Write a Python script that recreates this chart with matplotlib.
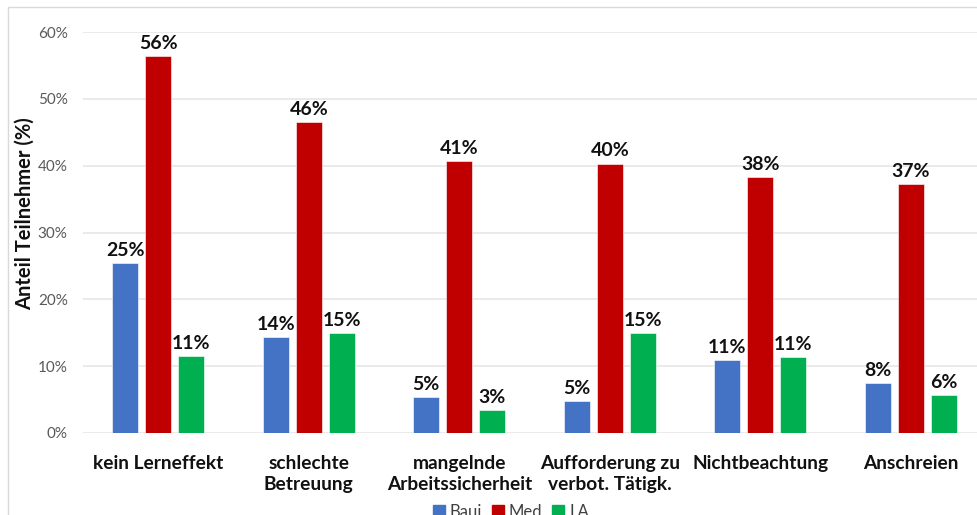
import matplotlib
matplotlib.use("Agg")
import matplotlib.pyplot as plt
import numpy as np
from matplotlib.patches import Rectangle
from matplotlib.ticker import FuncFormatter

categories = ["kein Lerneffekt", "schlechte\nBetreuung", "mangelnde\nArbeitssicherheit",
              "Aufforderung zu\nverbot. Tätigk.", "Nichtbeachtung", "Anschreien"]
series_names = ["Baui", "Med", "LA"]
baui = [25.4, 14.4, 5.4, 4.8, 10.9, 7.5]
med = [56.4, 46.5, 40.7, 40.3, 38.3, 37.2]
la = [11.5, 15.0, 3.4, 15.0, 11.4, 5.7]
labels_baui = ["25%", "14%", "5%", "5%", "11%", "8%"]
labels_med = ["56%", "46%", "41%", "40%", "38%", "37%"]
labels_la = ["11%", "15%", "3%", "15%", "11%", "6%"]
colors = ["#4472C4", "#C00000", "#00B050"]

plt.rcParams['font.family'] = ['Lato', 'DejaVu Sans']

fig = plt.figure(figsize=(9.78, 5.15), dpi=100)
W, H = 978, 515
ax = fig.add_axes([83 / W, (H - 433) / H, 903 / W, 401 / H])

x = np.arange(len(categories))
width = 0.173
step = 0.219
all_vals = [baui, med, la]
all_labels = [labels_baui, labels_med, labels_la]
for i, (vals, labs, c, name) in enumerate(zip(all_vals, all_labels, colors, series_names)):
    pos = x + (i - 1) * step
    ax.bar(pos, vals, width, color=c, label=name, zorder=3,
           edgecolor="white", linewidth=0.4)
    for p, v, t in zip(pos, vals, labs):
        ax.annotate(t, (p, v), xytext=(0, 3), textcoords="offset points",
                    ha="center", va="bottom", fontsize=14, fontweight="bold",
                    color="#111111")

ax.set_xlim(-0.5, 5.5)
ax.set_ylim(0, 60)
ax.set_yticks(np.arange(0, 61, 10))
ax.yaxis.set_major_formatter(FuncFormatter(lambda v, p: f"{int(v)}%"))
ax.grid(axis="y", color="#E6E6E6", linewidth=1.2, zorder=0)
for s in ax.spines.values():
    s.set_visible(False)
ax.tick_params(axis="both", length=0)
ax.tick_params(axis="y", labelsize=11, labelcolor="#595959", pad=11)
ax.set_xticks(x)
ax.set_xticklabels(categories, fontsize=13.8, fontweight="bold", color="#111111",
                   linespacing=1.3)
ax.tick_params(axis="x", pad=16)
ax.set_ylabel("Anteil Teilnehmer (%)", fontsize=14.5, fontweight="bold", color="#111111",
              va="center")
ax.yaxis.set_label_coords((25 - 83) / 903, (433 - 214) / 401)

handles = [Rectangle((0, 0), 1, 1, color=c) for c in colors]
fig.legend(handles, series_names, loc="center", bbox_to_anchor=(511 / W, (H - 512) / H),
           ncol=3, frameon=False, fontsize=12, handlelength=0.7, handleheight=0.7,
           columnspacing=0.6, handletextpad=0.3, labelcolor="#404040")

fig.patches.append(Rectangle((8 / W, -0.1), 1.2, (H - 7) / H + 0.1, transform=fig.transFigure,
                             fill=False, edgecolor="#D9D9D9", linewidth=1.0))

fig.savefig("out.png", dpi=100)
